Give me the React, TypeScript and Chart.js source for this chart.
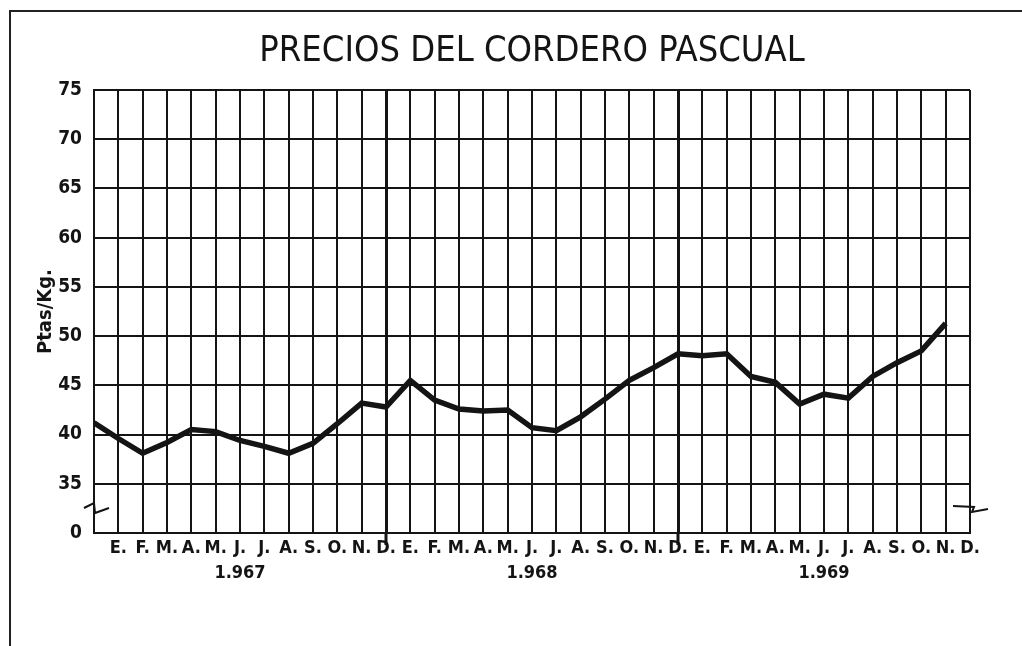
import React, { useEffect, useRef } from "react";
import { Chart, registerables } from "chart.js";

Chart.register(...registerables);

const months = ["E.", "F.", "M.", "A.", "M.", "J.", "J.", "A.", "S.", "O.", "N.", "D."];
const years = ["1.967", "1.968", "1.969"];
// Monthly price (Ptas/Kg.), Jan 1967 .. Dec 1969
const prices = [
  41.2, 39.6, 38.1, 39.2, 40.5, 40.3, 39.4, 38.8, 38.1, 39.1, 41.1, 43.2,
  42.8, 45.5, 43.5, 42.6, 42.4, 42.5, 40.7, 40.4, 41.8, 43.6, 45.5, 46.8,
  48.2, 48.0, 48.2, 45.9, 45.3, 43.1, 44.1, 43.7, 45.9, 47.3, 48.5, 51.3,
];
const yearBoundaries = [12, 24];
const yTickValues = [30, 35, 40, 45, 50, 55, 60, 65, 70, 75];
const yTickLabels = ["0", "35", "40", "45", "50", "55", "60", "65", "70", "75"];
const breakValue = 32.64;

const INK = "#141414";
const FAMILY = "'DejaVu Sans Condensed', 'DejaVu Sans', sans-serif";

const isBoundary = (c: any) => !!(c && c.tick && yearBoundaries.includes(c.tick.value));

const decoPlugin = {
  id: "axisDeco",
  afterDraw(chart: any) {
    const { ctx, chartArea, scales } = chart;
    const y0 = scales.y.getPixelForValue(breakValue);
    const xl = chartArea.left;
    const xr = chartArea.right;
    ctx.save();
    ctx.strokeStyle = INK;
    ctx.lineWidth = 2;
    ctx.lineJoin = "miter";
    // left break
    ctx.beginPath();
    ctx.moveTo(xl - 10, y0 + 1);
    ctx.lineTo(xl, y0 - 4);
    ctx.lineTo(xl + 1, y0 + 6);
    ctx.lineTo(xl + 15, y0 + 1);
    ctx.stroke();
    // right break
    ctx.beginPath();
    ctx.moveTo(xr - 17, y0 - 1);
    ctx.lineTo(xr + 4, y0);
    ctx.lineTo(xr + 2, y0 + 5);
    ctx.lineTo(xr + 18, y0 + 2);
    ctx.stroke();
    // year boundary marks below the axis
    ctx.lineWidth = 3;
    yearBoundaries.forEach((b) => {
      const x = scales.x.getPixelForValue(b);
      ctx.beginPath();
      ctx.moveTo(x, chartArea.bottom);
      ctx.lineTo(x, chartArea.bottom + 12);
      ctx.stroke();
    });
    ctx.restore();
  },
};

export default function App() {
  const ref = useRef<HTMLCanvasElement | null>(null);

  useEffect(() => {
    if (!ref.current) return;
    const chart = new Chart(ref.current, {
      type: "line",
      data: {
        datasets: [
          {
            data: prices.map((v, i) => ({ x: i, y: v })),
            borderColor: INK,
            borderWidth: 5.5,
            pointRadius: 0,
            tension: 0,
            fill: false,
          },
        ],
      },
      options: {
        animation: false,
        responsive: false,
        layout: { padding: { top: 0, right: 52, bottom: 0, left: 20 } },
        plugins: {
          legend: { display: false },
          tooltip: { enabled: false },
          title: {
            display: true,
            text: "PRECIOS DEL CORDERO PASCUAL",
            color: INK,
            fullSize: false,
            font: { family: FAMILY, size: 36, weight: "normal", lineHeight: 1.2 },
            padding: { top: 30.4, bottom: 16.4 },
          },
        },
        scales: {
          x: {
            type: "linear",
            min: 0,
            max: 36,
            afterFit: (s: any) => {
              s.height = 113;
            },
            border: { display: true, color: INK, width: 2 },
            grid: {
              color: INK,
              lineWidth: (c: any) => (isBoundary(c) ? 3 : 2),
              drawTicks: false,
            },
            ticks: {
              stepSize: 1,
              autoSkip: false,
              maxRotation: 0,
              minRotation: 0,
              padding: 3,
              color: INK,
              font: { family: FAMILY, size: 18, weight: "bold", lineHeight: 25 / 18 },
              callback: (value: any) => {
                const v = Number(value);
                if (v < 1 || v > 36) return "";
                const m = months[(v - 1) % 12];
                if ((v - 1) % 12 === 5) return [m, years[Math.floor((v - 1) / 12)]];
                return m;
              },
            },
          },
          y: {
            type: "linear",
            min: yTickValues[0],
            max: yTickValues[yTickValues.length - 1],
            afterFit: (s: any) => {
              s.width = 74;
            },
            border: { display: true, color: INK, width: 2 },
            grid: { color: INK, lineWidth: 2, drawTicks: false },
            ticks: {
              stepSize: 5,
              padding: 12,
              color: INK,
              font: { family: FAMILY, size: 19, weight: "bold" },
              callback: (_v: any, i: number) => yTickLabels[i],
            },
            title: {
              display: true,
              text: "Ptas/Kg.",
              color: INK,
              font: { family: FAMILY, size: 20, weight: "bold", lineHeight: 1.2 },
              padding: { top: 14, bottom: 0 },
            },
          },
        },
      },
      plugins: [decoPlugin],
    } as any);
    return () => chart.destroy();
  }, []);

  return (
    <div style={{ position: "fixed", left: 0, top: 0, width: 1022, height: 646, background: "#fff" }}>
      <div
        style={{
          position: "absolute",
          left: 9,
          top: 10,
          right: 0,
          bottom: 0,
          borderTop: "2px solid #222",
          borderLeft: "2px solid #222",
        }}
      />
      <canvas ref={ref} width={1022} height={646} style={{ position: "absolute", left: 0, top: 0, display: "block" }} />
    </div>
  );
}
